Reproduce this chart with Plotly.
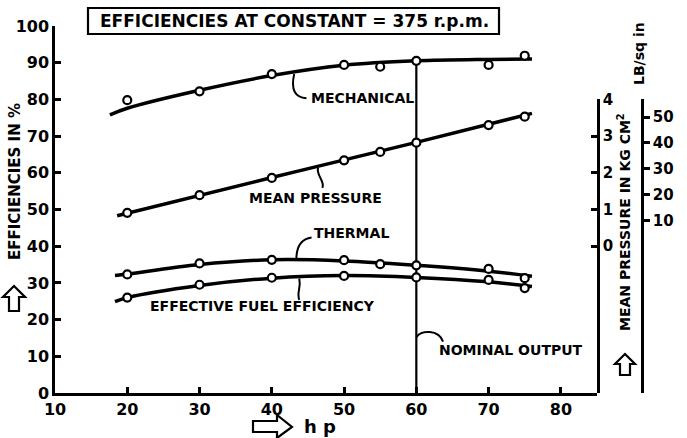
import plotly.graph_objects as go

# ---- measured points (hp) ----
hp_pts = [20, 30, 40, 50, 55, 60, 70, 75]
mech_pts = [79.8, 82.2, 86.9, 89.4, 88.9, 90.5, 89.4, 91.9]
mean_kg_pts = [0.91, 1.39, 1.86, 2.34, 2.57, 2.82, 3.30, 3.53]
thermal_pts = [32.3, 35.3, 36.3, 36.2, 35.1, 34.8, 33.8, 31.3]
eff_hp_pts = [20, 30, 40, 50, 60, 70, 75]
effective_pts = [26.0, 29.5, 31.4, 31.9, 31.5, 30.8, 28.6]

# ---- faired curves ----
mech_curve_hp = [17.6, 20, 30, 40, 50, 60, 70, 76]
mech_curve = [75.8, 77.6, 82.5, 86.5, 89.3, 90.5, 90.9, 91.0]
mean_curve_hp = [18.6, 40, 60, 76]
mean_curve_kg = [0.83, 1.87, 2.83, 3.62]
th_curve_hp = [18.3, 20, 30, 40, 50, 60, 70, 76]
thermal_curve = [32.0, 32.4, 35.0, 36.3, 36.0, 34.8, 33.2, 31.8]
effective_curve = [24.9, 26.0, 29.3, 31.3, 32.0, 31.5, 30.3, 29.0]

nominal_hp = 60
nominal_mech = 90.5

KG_TO_PSI = 14.223
x_ticks = [10, 20, 30, 40, 50, 60, 70, 80]
y_ticks = [0, 10, 20, 30, 40, 50, 60, 70, 80, 90, 100]
kg_ticks = [0, 1, 2, 3, 4]
psi_ticks = [10, 20, 30, 40, 50]

W, H = 687, 438
ML, MR, MT, MB = 55, 20, 26, 45
PW, PH = W - ML - MR, H - MT - MB
X_DOMAIN_END = (597 - ML) / PW
PSI_POS = (642 - ML) / PW

FONT = "DejaVu Sans"
INK = "black"
CLEAR = "rgba(0,0,0,0)"


def px(xp):
    return (xp - ML) / PW


def py(yp):
    return (H - MB - yp) / PH


fig = go.Figure()

curve_line = dict(color=INK, width=3.5, shape="spline")
pt_marker = dict(symbol="circle", size=8, color="white", line=dict(color=INK, width=2.2))

# nominal output line
fig.add_trace(go.Scatter(x=[nominal_hp, nominal_hp], y=[0, nominal_mech], mode="lines",
                         line=dict(color=INK, width=2.2), hoverinfo="skip"))

fig.add_trace(go.Scatter(x=mech_curve_hp, y=mech_curve, mode="lines", line=curve_line))
fig.add_trace(go.Scatter(x=hp_pts, y=mech_pts, mode="markers", marker=pt_marker))

fig.add_trace(go.Scatter(x=th_curve_hp, y=thermal_curve, mode="lines", line=curve_line))
fig.add_trace(go.Scatter(x=hp_pts, y=thermal_pts, mode="markers", marker=pt_marker))

fig.add_trace(go.Scatter(x=th_curve_hp, y=effective_curve, mode="lines", line=curve_line))
fig.add_trace(go.Scatter(x=eff_hp_pts, y=effective_pts, mode="markers", marker=pt_marker))

# mean pressure on kg/cm2 axis
fig.add_trace(go.Scatter(x=mean_curve_hp, y=mean_curve_kg, mode="lines", line=curve_line,
                         yaxis="y2"))
fig.add_trace(go.Scatter(x=hp_pts, y=mean_kg_pts, mode="markers", marker=pt_marker,
                         yaxis="y2"))

# same pressure in lb/sq in (axis carrier only)
fig.add_trace(go.Scatter(x=hp_pts, y=[v * KG_TO_PSI for v in mean_kg_pts], mode="lines",
                         line=dict(width=0), opacity=0, yaxis="y3", hoverinfo="skip"))

tickfont = dict(family=FONT, size=16, color=INK, weight="bold")
rtickfont = dict(family=FONT, size=15, color=INK, weight="bold")

fig.update_layout(
    width=W, height=H,
    margin=dict(l=ML, r=MR, t=MT, b=MB),
    paper_bgcolor="white", plot_bgcolor=CLEAR,
    showlegend=False,
    font=dict(family=FONT, color=INK, weight="bold"),
    xaxis=dict(domain=[0, X_DOMAIN_END], range=[10, 85], tickvals=x_ticks,
               showgrid=False, zeroline=False, showline=True, linecolor=INK, linewidth=2.5,
               ticks="inside", ticklen=6, tickwidth=2.5, tickcolor=INK, tickfont=tickfont,
               anchor="y"),
    yaxis=dict(domain=[0, 1], range=[0, 100], tickvals=y_ticks,
               showgrid=False, zeroline=False, showline=True, linecolor=INK, linewidth=2.5,
               ticks="inside", ticklen=6, tickwidth=2.5, tickcolor=INK, tickfont=tickfont,
               anchor="x"),
    yaxis2=dict(domain=[0, 0.8], range=[-4, 4], tickvals=kg_ticks,
                side="right", anchor="x",
                showgrid=False, zeroline=False, showline=True, linecolor=INK, linewidth=2.5,
                ticks="inside", ticklen=6, tickwidth=2.5, tickcolor=INK, tickfont=rtickfont),
    yaxis3=dict(domain=[0, 0.8], range=[-4 * KG_TO_PSI, 4 * KG_TO_PSI], tickvals=psi_ticks,
                side="right", anchor="free", position=PSI_POS,
                showgrid=False, zeroline=False, showline=True, linecolor=INK, linewidth=2.5,
                ticks="outside", ticklen=6, tickwidth=2.5, tickcolor=INK, tickfont=rtickfont),
)

lab = dict(family=FONT, size=14, color=INK, weight="bold")


def note(text, x, y):
    fig.add_annotation(text=text, x=x, y=y, xref="x", yref="y", showarrow=False,
                       xanchor="left", yanchor="middle", font=lab)


note("MECHANICAL", 45.2, 80.4)
note("MEAN PRESSURE", 36.6, 53.1)
note("THERMAL", 45.6, 43.6)
note("EFFECTIVE FUEL EFFICIENCY", 22.8, 23.7)
note("NOMINAL OUTPUT", 62.8, 11.7)

# leader strokes from labels to curves
leaders = [
    "M 44.8,80.3 C 43.2,80.6 42.6,82.6 43.1,86.9",
    "M 47.0,55.9 C 47.4,57.8 46.1,59.3 46.4,61.4",
    "M 45.5,42.4 C 43.9,42.0 43.4,39.5 43.4,36.4",
    "M 43.8,25.4 C 43.4,27.4 44.1,28.6 43.8,31.2",
    "M 60.0,15.2 C 60.6,17.2 63.1,17.4 63.7,14.0",
]
for p in leaders:
    fig.add_shape(type="path", path=p, xref="x", yref="y",
                  line=dict(color=INK, width=2))

# title box
fig.add_shape(type="rect", xref="paper", yref="paper",
              x0=px(88), x1=px(499), y0=py(34), y1=py(8),
              line=dict(color=INK, width=2.2), fillcolor="white", layer="above")
fig.add_annotation(text="EFFICIENCIES AT CONSTANT = 375 r.p.m.", xref="paper", yref="paper",
                   x=px(294), y=py(21), showarrow=False, xanchor="center", yanchor="middle",
                   font=dict(family=FONT, size=17, color=INK, weight="bold"))


def caption(text, xp, yp, size, angle=0, xanchor="center"):
    fig.add_annotation(text=text, xref="paper", yref="paper", x=px(xp), y=py(yp),
                       textangle=angle, showarrow=False, xanchor=xanchor, yanchor="middle",
                       font=dict(family=FONT, size=size, color=INK, weight="bold"))


caption("EFFICIENCIES IN %", 15, 182, 15, -90)
caption("MEAN PRESSURE IN KG CM<sup>2</sup>", 624, 222, 14, -90)
caption("LB/sq in", 639, 54, 14, -90)
caption("h p", 302, 426, 18, 0, "left")


def outline_arrow(pts):
    d = "M " + " L ".join(f"{px(a):.5f},{py(b):.5f}" for a, b in pts) + " Z"
    fig.add_shape(type="path", path=d, xref="paper", yref="paper",
                  line=dict(color=INK, width=2.2), fillcolor="white")


# hollow arrows
outline_arrow([(253, 421), (277, 421), (277, 415), (292, 427), (277, 438), (277, 432), (253, 432)])
outline_arrow([(14, 286), (25, 297), (19, 297), (19, 311), (9, 311), (9, 297), (3, 297)])
outline_arrow([(625, 354), (635, 364), (630, 364), (630, 375), (620, 375), (620, 364), (615, 364)])

fig.write_html("out.html")
